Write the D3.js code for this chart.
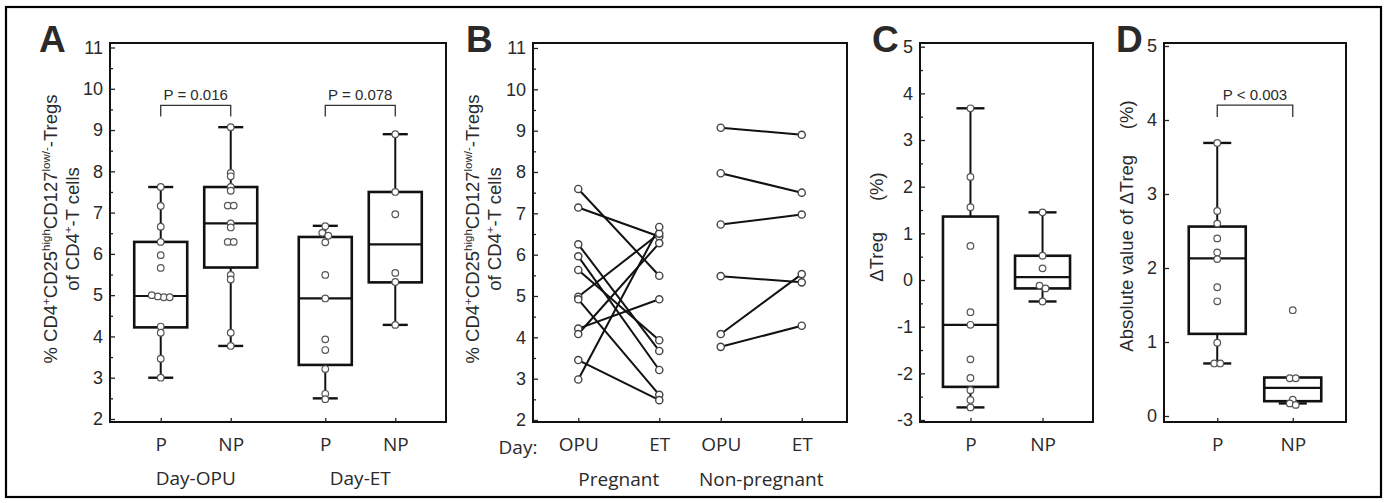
<!DOCTYPE html>
<html>
<head>
<meta charset="utf-8">
<script src="https://cdn.jsdelivr.net/npm/d3@7"></script>
<style>
body { margin: 0; background: #fff; }
svg text { font-family: "Liberation Sans", Arial, sans-serif; fill: #2a2a2a; }
.cat text, text.cat { font-family: "Open Sans", "Noto Sans", sans-serif; }
</style>
</head>
<body>
<svg id="chart"></svg>
<script>
// ---- panel A : box plots, P / NP on Day-OPU and Day-ET ----
let groupsA = ["Day-OPU", "Day-ET"]
let subCats = ["P", "NP"]
let yTicksA = d3.range(2, 12)
// stats are [min, q1, median, q3, max]
let statsOpuP = [3.0, 4.22, 4.98, 6.29, 7.62]
let statsOpuNP = [3.77, 5.67, 6.74, 7.62, 9.07]
let statsEtP = [2.5, 3.31, 4.92, 6.41, 6.68]
let statsEtNP = [4.28, 5.31, 6.23, 7.50, 8.90]
let pointsOpuP = [7.62, 7.16, 6.66, 6.29, 5.97, 5.66, 4.95, 4.95, 4.97, 5.0, 4.24, 4.09, 3.46, 3.0]
let pointsOpuNP = [9.07, 7.96, 7.88, 7.62, 7.53, 7.17, 7.17, 6.74, 6.64, 6.29, 6.29, 5.49, 5.38, 4.09, 3.77]
let pointsEtP = [6.67, 6.51, 6.44, 6.28, 5.49, 4.92, 3.93, 3.67, 3.21, 2.61, 2.48]
let pointsEtNP = [8.90, 7.50, 6.96, 5.54, 5.32, 4.28]
let pLabelsA = ["P = 0.016", "P = 0.078"]

// ---- panel B : paired values, Day OPU -> Day ET ----
let groupsB = ["Pregnant", "Non-pregnant"]
let daysB = ["OPU", "ET"]
let pregOpu = [7.59, 7.14, 6.25, 5.96, 5.63, 4.98, 4.92, 4.21, 4.08, 3.45, 2.98]
let pregEt = [5.49, 6.44, 3.67, 3.21, 3.93, 6.51, 2.61, 4.92, 6.28, 2.48, 6.67]
let nonpregOpu = [9.07, 7.97, 6.73, 5.48, 4.08, 3.77]
let nonpregEt = [8.90, 7.50, 6.97, 5.33, 5.53, 4.28]

// ---- panel C : delta Treg ----
let yTicksC = d3.range(-3, 6)
let deltaP = [3.68, 2.21, 1.56, 0.73, -0.69, -0.96, -1.70, -2.10, -2.36, -2.57, -2.73]
let deltaNP = [1.45, 0.52, 0.25, -0.12, -0.18, -0.46]
let statsDeltaP = [-2.73, -2.29, -0.96, 1.36, 3.68]
let statsDeltaNP = [-0.46, -0.18, 0.06, 0.52, 1.45]

// ---- panel D : absolute delta Treg ----
let yTicksD = d3.range(0, 6)
let absP = [3.69, 2.77, 2.60, 2.40, 2.21, 2.12, 1.74, 1.55, 0.99, 0.71, 0.71]
let absNP = [1.43, 0.51, 0.51, 0.22, 0.17, 0.15]
let statsAbsP = [0.71, 1.11, 2.13, 2.56, 3.69]
let statsAbsNP = [0.17, 0.20, 0.38, 0.52, 0.52]
let pLabelD = "P < 0.003"

let width = 1386
let height = 503

let svg = d3.select("#chart")
    .attr("width", width)
    .attr("height", height)

svg.append("rect")
    .attr("x", 6).attr("y", 7)
    .attr("width", 1375).attr("height", 490)
    .attr("fill", "none").attr("stroke", "#000").attr("stroke-width", 2.2)

let plotTop = 43, plotBottom = 422

let frame = (x0, x1) => {
    svg.append("rect")
        .attr("x", x0).attr("y", plotTop)
        .attr("width", x1 - x0).attr("height", plotBottom - plotTop)
        .attr("fill", "none").attr("stroke", "#111").attr("stroke-width", 2)
}

let drawYAxis = (y, x0, majors, minors) => {
    let ax = svg.append("g")
        .attr("transform", "translate(" + x0 + ",0)")
        .call(d3.axisLeft(y).tickValues(majors).tickSize(-5).tickPadding(7).tickFormat(d => String(d)))
    ax.select(".domain").remove()
    ax.selectAll("line").attr("stroke", "#222").attr("stroke-width", 1.3)
    ax.selectAll("text").attr("font-size", 18).attr("fill", "#333")
        .style("font-family", "'Liberation Sans', Arial, sans-serif")
    if (minors) {
        let mx = svg.append("g")
            .attr("transform", "translate(" + x0 + ",0)")
            .call(d3.axisLeft(y).tickValues(minors).tickSize(-3).tickFormat(""))
        mx.select(".domain").remove()
        mx.selectAll("line").attr("stroke", "#222").attr("stroke-width", 1.3)
    }
}

let drawXAxis = (x, labels) => {
    let ax = svg.append("g")
        .attr("class", "cat")
        .attr("transform", "translate(0," + plotBottom + ")")
        .call(d3.axisBottom(x).tickSize(-4).tickPadding(16).tickFormat((d, i) => labels[i]))
    ax.select(".domain").remove()
    ax.selectAll("line").attr("stroke", "#222").attr("stroke-width", 1.3)
    ax.selectAll("text").attr("font-size", 19).attr("fill", "#222")
        .style("font-family", "'Open Sans', 'Noto Sans', sans-serif")
}

// spread points that would sit on top of each other
let jitter = (vals, y) => {
    let idx = vals.map((v, i) => i).sort((a, b) => y(vals[a]) - y(vals[b]))
    let off = vals.map(() => 0)
    let cluster = []
    let flush = () => {
        cluster.forEach((k, j) => off[k] = (j - (cluster.length - 1) / 2) * 6)
        cluster = []
    }
    idx.forEach(k => {
        if (cluster.length && Math.abs(y(vals[k]) - y(vals[cluster[cluster.length - 1]])) >= 3) flush()
        cluster.push(k)
    })
    flush()
    return off
}

let drawBox = (cx, y, stats, pts, boxW, capW) => {
    let [mn, q1, md, q3, mx] = stats
    let g = svg.append("g")
    let line = (x1, y1, x2, y2, w) => g.append("line")
        .attr("x1", x1).attr("y1", y1).attr("x2", x2).attr("y2", y2)
        .attr("stroke", "#111").attr("stroke-width", w)
    if (mx > q3) {
        line(cx, y(q3), cx, y(mx), 2)
        line(cx - capW / 2, y(mx), cx + capW / 2, y(mx), 2.4)
    }
    if (mn < q1) {
        line(cx, y(q1), cx, y(mn), 2)
        line(cx - capW / 2, y(mn), cx + capW / 2, y(mn), 2.4)
    }
    g.append("rect")
        .attr("x", cx - boxW / 2).attr("y", y(q3))
        .attr("width", boxW).attr("height", y(q1) - y(q3))
        .attr("fill", "none").attr("stroke", "#111").attr("stroke-width", 2.6)
    line(cx - boxW / 2, y(md), cx + boxW / 2, y(md), 2.2)
    let off = jitter(pts, y)
    g.selectAll("circle")
        .data(pts)
        .enter()
        .append("circle")
        .attr("cx", (d, i) => cx + off[i])
        .attr("cy", d => y(d))
        .attr("r", 3.3)
        .attr("fill", "#fff").attr("stroke", "#555").attr("stroke-width", 1.2)
}

let bracket = (x1, x2, yTop, yLeg, label) => {
    svg.append("path")
        .attr("d", "M" + x1 + "," + yLeg + "V" + yTop + "H" + x2 + "V" + yLeg)
        .attr("fill", "none").attr("stroke", "#333").attr("stroke-width", 1.3)
    svg.append("text")
        .attr("x", (x1 + x2) / 2).attr("y", yTop - 5)
        .attr("text-anchor", "middle").attr("font-size", 15).attr("fill", "#333")
        .text(label)
}

let letter = (x, t) => {
    svg.append("text")
        .attr("x", x).attr("y", 52)
        .attr("font-size", 37).attr("font-weight", "bold").attr("fill", "#000")
        .text(t)
}

let tregLabel = (x1, x2, cy) => {
    let l1 = svg.append("text")
        .attr("transform", "translate(" + x1 + "," + cy + ") rotate(-90)")
        .attr("text-anchor", "middle").attr("font-size", 18.5).attr("dy", "0.35em")
    l1.append("tspan").text("% CD4")
    l1.append("tspan").attr("font-size", 11.5).attr("dy", -7).text("+")
    l1.append("tspan").attr("dy", 7).text("CD25")
    l1.append("tspan").attr("font-size", 11.5).attr("dy", -7).text("high")
    l1.append("tspan").attr("dy", 7).text("CD127")
    l1.append("tspan").attr("font-size", 11.5).attr("dy", -7).text("low/-")
    l1.append("tspan").attr("dy", 7).text("-Tregs")
    let l2 = svg.append("text")
        .attr("transform", "translate(" + x2 + "," + cy + ") rotate(-90)")
        .attr("text-anchor", "middle").attr("font-size", 18.5).attr("dy", "0.35em")
    l2.append("tspan").text("of CD4")
    l2.append("tspan").attr("font-size", 11.5).attr("dy", -7).text("+")
    l2.append("tspan").attr("dy", 7).text("-T cells")
}

let halfTicks = (lo, hi) => d3.range(lo, hi + 0.001, 0.5).filter(v => v % 1 !== 0)

// ================= panel A =================
let leftA = 110, rightA = 446
let yA = d3.scaleLinear().domain([2, 11]).range([419, 47.5])
let gA = d3.scalePoint().domain(groupsA).range([leftA, rightA]).padding(0.521)
let sA = d3.scalePoint().domain(subCats).range([-35, 35])
let keysA = []
groupsA.forEach(g => subCats.forEach(s => keysA.push(g + "|" + s)))
let xA = d3.scaleOrdinal().domain(keysA).range(keysA.map(k => gA(k.split("|")[0]) + sA(k.split("|")[1])))

let boxesA = [
    { key: "Day-OPU|P", stats: statsOpuP, pts: pointsOpuP },
    { key: "Day-OPU|NP", stats: statsOpuNP, pts: pointsOpuNP },
    { key: "Day-ET|P", stats: statsEtP, pts: pointsEtP },
    { key: "Day-ET|NP", stats: statsEtNP, pts: pointsEtNP }
]
boxesA.forEach(b => drawBox(xA(b.key), yA, b.stats, b.pts, 53, 25))
frame(leftA, rightA)
drawYAxis(yA, leftA, yTicksA, halfTicks(2, 11))
drawXAxis(xA, keysA.map(k => k.split("|")[1]))
groupsA.forEach((g, i) => {
    svg.append("text").attr("class", "cat")
        .attr("x", gA(g)).attr("y", 485)
        .attr("text-anchor", "middle").attr("font-size", 19).attr("fill", "#222")
        .text(g)
    bracket(xA(g + "|P"), xA(g + "|NP"), yA(9.6), yA(9.33), pLabelsA[i])
})
letter(39, "A")
tregLabel(51, 73, 229)

// ================= panel B =================
let leftB = 533, rightB = 847
let yB = d3.scaleLinear().domain([2, 11]).range([420, 48])
let gB = d3.scalePoint().domain(groupsB).range([leftB, rightB]).padding(0.602)
let dB = d3.scalePoint().domain(daysB).range([-40.5, 40.5])
let keysB = []
groupsB.forEach(g => daysB.forEach(s => keysB.push(g + "|" + s)))
let xB = d3.scaleOrdinal().domain(keysB).range(keysB.map(k => gB(k.split("|")[0]) + dB(k.split("|")[1])))

let pairsB = []
pregOpu.forEach((v, i) => pairsB.push({ g: "Pregnant", a: v, b: pregEt[i] }))
nonpregOpu.forEach((v, i) => pairsB.push({ g: "Non-pregnant", a: v, b: nonpregEt[i] }))

svg.append("g").selectAll("line")
    .data(pairsB)
    .enter()
    .append("line")
    .attr("x1", d => xB(d.g + "|OPU")).attr("y1", d => yB(d.a))
    .attr("x2", d => xB(d.g + "|ET")).attr("y2", d => yB(d.b))
    .attr("stroke", "#111").attr("stroke-width", 2)

let endsB = []
pairsB.forEach(d => {
    endsB.push({ x: xB(d.g + "|OPU"), v: d.a })
    endsB.push({ x: xB(d.g + "|ET"), v: d.b })
})
svg.append("g").selectAll("circle")
    .data(endsB)
    .enter()
    .append("circle")
    .attr("cx", d => d.x).attr("cy", d => yB(d.v))
    .attr("r", 3.6)
    .attr("fill", "#fff").attr("stroke", "#444").attr("stroke-width", 1.4)

frame(leftB, rightB)
drawYAxis(yB, leftB, yTicksA, halfTicks(2, 11))
drawXAxis(xB, keysB.map(k => k.split("|")[1]))
svg.append("text").attr("class", "cat")
    .attr("x", 518).attr("y", 454)
    .attr("text-anchor", "middle").attr("font-size", 19).attr("fill", "#222")
    .text("Day:")
groupsB.forEach(g => {
    svg.append("text").attr("class", "cat")
        .attr("x", gB(g)).attr("y", 486)
        .attr("text-anchor", "middle").attr("font-size", 19).attr("fill", "#222")
        .text(g)
})
letter(466, "B")
tregLabel(473, 495, 229)

// ================= panel C =================
let leftC = 920, rightC = 1093
let yC = d3.scaleLinear().domain([-3, 5]).range([420, 46.7])
let xC = d3.scalePoint().domain(subCats).range([leftC, rightC]).padding(0.70)
drawBox(xC("P"), yC, statsDeltaP, deltaP, 55, 28)
drawBox(xC("NP"), yC, statsDeltaNP, deltaNP, 55, 28)
frame(leftC, rightC)
drawYAxis(yC, leftC, yTicksC, halfTicks(-3, 5))
drawXAxis(xC, subCats)
letter(872, "C")
svg.append("text")
    .attr("transform", "translate(877,227) rotate(-90)")
    .attr("text-anchor", "middle").attr("font-size", 18.5).attr("dy", "0.35em")
    .style("white-space", "pre")
    .text("\u0394Treg\u00a0\u00a0\u00a0\u00a0\u00a0\u00a0(%)")

// ================= panel D =================
let leftD = 1164, rightD = 1346
let yD = d3.scaleLinear().domain([0, 5]).range([416, 46])
let xD = d3.scalePoint().domain(subCats).range([leftD, rightD]).padding(0.705)
drawBox(xD("P"), yD, statsAbsP, absP, 57, 28)
drawBox(xD("NP"), yD, statsAbsNP, absNP, 57, 28)
frame(leftD, rightD)
drawYAxis(yD, leftD, yTicksD, null)
drawXAxis(xD, subCats)
bracket(xD("P"), xD("NP"), yD(4.2), yD(4.04), pLabelD)
letter(1116, "D")
svg.append("text")
    .attr("transform", "translate(1127,226) rotate(-90)")
    .attr("text-anchor", "middle").attr("font-size", 18.5).attr("dy", "0.35em")
    .style("white-space", "pre")
    .text("Absolute value of \u0394Treg\u00a0\u00a0\u00a0\u00a0\u00a0(%)")
</script>
</body>
</html>
